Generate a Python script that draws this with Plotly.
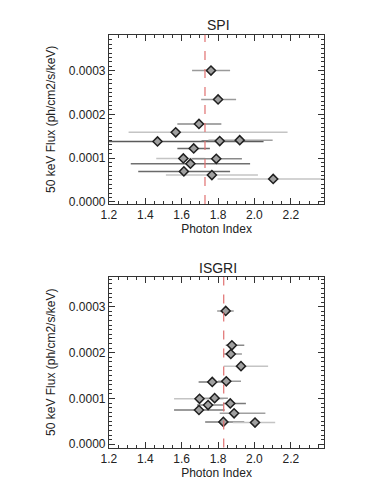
import plotly.graph_objects as go

# ---- SPI data ----
spi_index = [1.761, 1.800, 1.695, 1.567, 1.467, 1.809, 1.919, 1.666, 1.609, 1.790, 1.648, 1.612, 1.766, 2.103]
spi_flux = [0.000300, 0.000234, 0.000178, 0.000159, 0.000138, 0.000139, 0.000141, 0.000122,
            0.0000991, 0.0000984, 0.0000871, 0.0000696, 0.0000612, 0.0000522]
spi_lo = [1.657, 1.707, 1.576, 1.308, 1.10, 1.709, 1.747, 1.576, 1.46, 1.657, 1.32, 1.361, 1.513, 1.797]
spi_hi = [1.866, 1.899, 1.818, 2.182, 2.05, 1.91, 2.100, 1.755, 1.73, 1.931, 1.976, 1.866, 2.019, 2.60]
spi_ferr = [0.000008, 0.000005, 0.000005, 0.000009, 0.000009, 0.000005, 0.000005, 0.000005,
            0.000005, 0.000005, 0.000005, 0.000005, 0.000005, 0.000005]
spi_shade = ["#9a9a9a", "#9a9a9a", "#8a8a8a", "#c4c4c4", "#5a5a5a", "#6a6a6a", "#a0a0a0",
             "#6a6a6a", "#c4c4c4", "#8a8a8a", "#707070", "#6a6a6a", "#c4c4c4", "#c4c4c4"]
spi_mean = 1.728

# ---- ISGRI data ----
isgri_index = [1.842, 1.876, 1.870, 1.926, 1.845, 1.768, 1.698, 1.781, 1.867, 1.745, 1.695, 1.888, 1.829, 2.003]
isgri_flux = [0.000291, 0.000216, 0.000197, 0.0001705, 0.0001374, 0.000136, 0.0000993, 0.0001007,
              0.0000892, 0.0000856, 0.0000748, 0.0000676, 0.0000489, 0.0000475]
isgri_lo = [1.795, 1.842, 1.833, 1.831, 1.800, 1.693, 1.558, 1.684, 1.827, 1.684, 1.558, 1.809, 1.729, 1.881]
isgri_hi = [1.886, 1.944, 1.931, 2.075, 1.926, 1.845, 1.830, 1.854, 1.953, 1.827, 1.836, 2.060, 1.944, 2.114]
isgri_ferr = [0.000005] * 14
isgri_shade = ["#9a9a9a", "#8a8a8a", "#9a9a9a", "#c4c4c4", "#9a9a9a", "#7a7a7a", "#c4c4c4",
               "#9a9a9a", "#7a7a7a", "#8a8a8a", "#7a7a7a", "#a0a0a0", "#7a7a7a", "#c4c4c4"]
isgri_mean = 1.831

x_ticks = [1.2, 1.4, 1.6, 1.8, 2.0, 2.2]
y_ticks = [0.0, 0.0001, 0.0002, 0.0003]
y_tick_text = ["0.0000", "0.0001", "0.0002", "0.0003"]

FONT = "Liberation Sans, Arial, sans-serif"
fig = go.Figure()


def add_panel(xs, ys, lo, hi, ferr, shades, xa, ya):
    for x, y, l, h, e, c in zip(xs, ys, lo, hi, ferr, shades):
        fig.add_trace(go.Scatter(
            x=[x], y=[y], mode="markers", marker=dict(size=1, opacity=0),
            error_x=dict(type="data", symmetric=False, array=[h - x], arrayminus=[x - l],
                         color=c, thickness=1.5, width=0),
            error_y=dict(type="data", array=[e], color="#333333", thickness=1, width=0),
            xaxis=xa, yaxis=ya, showlegend=False, hoverinfo="skip"))
    fig.add_trace(go.Scatter(
        x=xs, y=ys, mode="markers",
        marker=dict(symbol="diamond", size=7, color="#a0a0a0",
                    line=dict(color="#202020", width=1.5)),
        xaxis=xa, yaxis=ya, showlegend=False))


add_panel(spi_index, spi_flux, spi_lo, spi_hi, spi_ferr, spi_shade, "x", "y")
add_panel(isgri_index, isgri_flux, isgri_lo, isgri_hi, isgri_ferr, isgri_shade, "x2", "y2")

fig.add_shape(type="line", xref="x", yref="y domain", x0=spi_mean, x1=spi_mean, y0=0, y1=1,
              line=dict(color="#e07070", width=1.2, dash="dash"))
fig.add_shape(type="line", xref="x2", yref="y2 domain", x0=isgri_mean, x1=isgri_mean, y0=0, y1=1,
              line=dict(color="#e07070", width=1.2, dash="dash"))

xaxis_common = dict(
    range=[1.2, 2.383], tickvals=x_ticks, ticktext=[f"{v:.1f}" for v in x_ticks],
    ticks="inside", ticklen=6, tickcolor="#333", mirror="allticks", showline=True,
    linecolor="#333", linewidth=1, showgrid=False, zeroline=False,
    minor=dict(dtick=0.05, tick0=1.2, ticks="inside", ticklen=3, tickcolor="#333"),
    tickfont=dict(family=FONT, size=12, color="#222"),
    title=dict(text="Photon Index", font=dict(family=FONT, size=12, color="#222"), standoff=3),
    domain=[0.2596, 0.8607])
yaxis_common = dict(
    tickvals=y_ticks, ticktext=y_tick_text,
    ticks="inside", ticklen=6, tickcolor="#333", mirror="allticks", showline=True,
    linecolor="#333", linewidth=1, showgrid=False, zeroline=False,
    minor=dict(dtick=0.00001, tick0=0, ticks="inside", ticklen=3, tickcolor="#333"),
    tickfont=dict(family=FONT, size=12, color="#222"),
    title=dict(text="50 keV Flux (ph/cm2/s/keV)", font=dict(family=FONT, size=12, color="#222"),
               standoff=10))

fig.update_layout(
    width=366, height=497, margin=dict(l=0, r=0, t=0, b=0),
    paper_bgcolor="white", plot_bgcolor="white",
    xaxis=dict(**xaxis_common, anchor="y"),
    yaxis=dict(**yaxis_common, range=[-0.000005, 0.000382], domain=[0.6016, 0.9457], anchor="x"),
    xaxis2=dict(**xaxis_common, anchor="y2"),
    yaxis2=dict(**yaxis_common, range=[-0.0000071, 0.000365], domain=[0.1066, 0.4533], anchor="x2"),
    annotations=[
        dict(text="SPI", x=0.5652, y=1 - 17 / 497, xref="paper", yref="paper", showarrow=False,
             font=dict(family=FONT, size=14, color="#222"), yanchor="middle"),
        dict(text="ISGRI", x=0.5652, y=1 - 263 / 497, xref="paper", yref="paper", showarrow=False,
             font=dict(family=FONT, size=14, color="#222"), yanchor="middle"),
    ],
)

fig.write_html("out.html")
